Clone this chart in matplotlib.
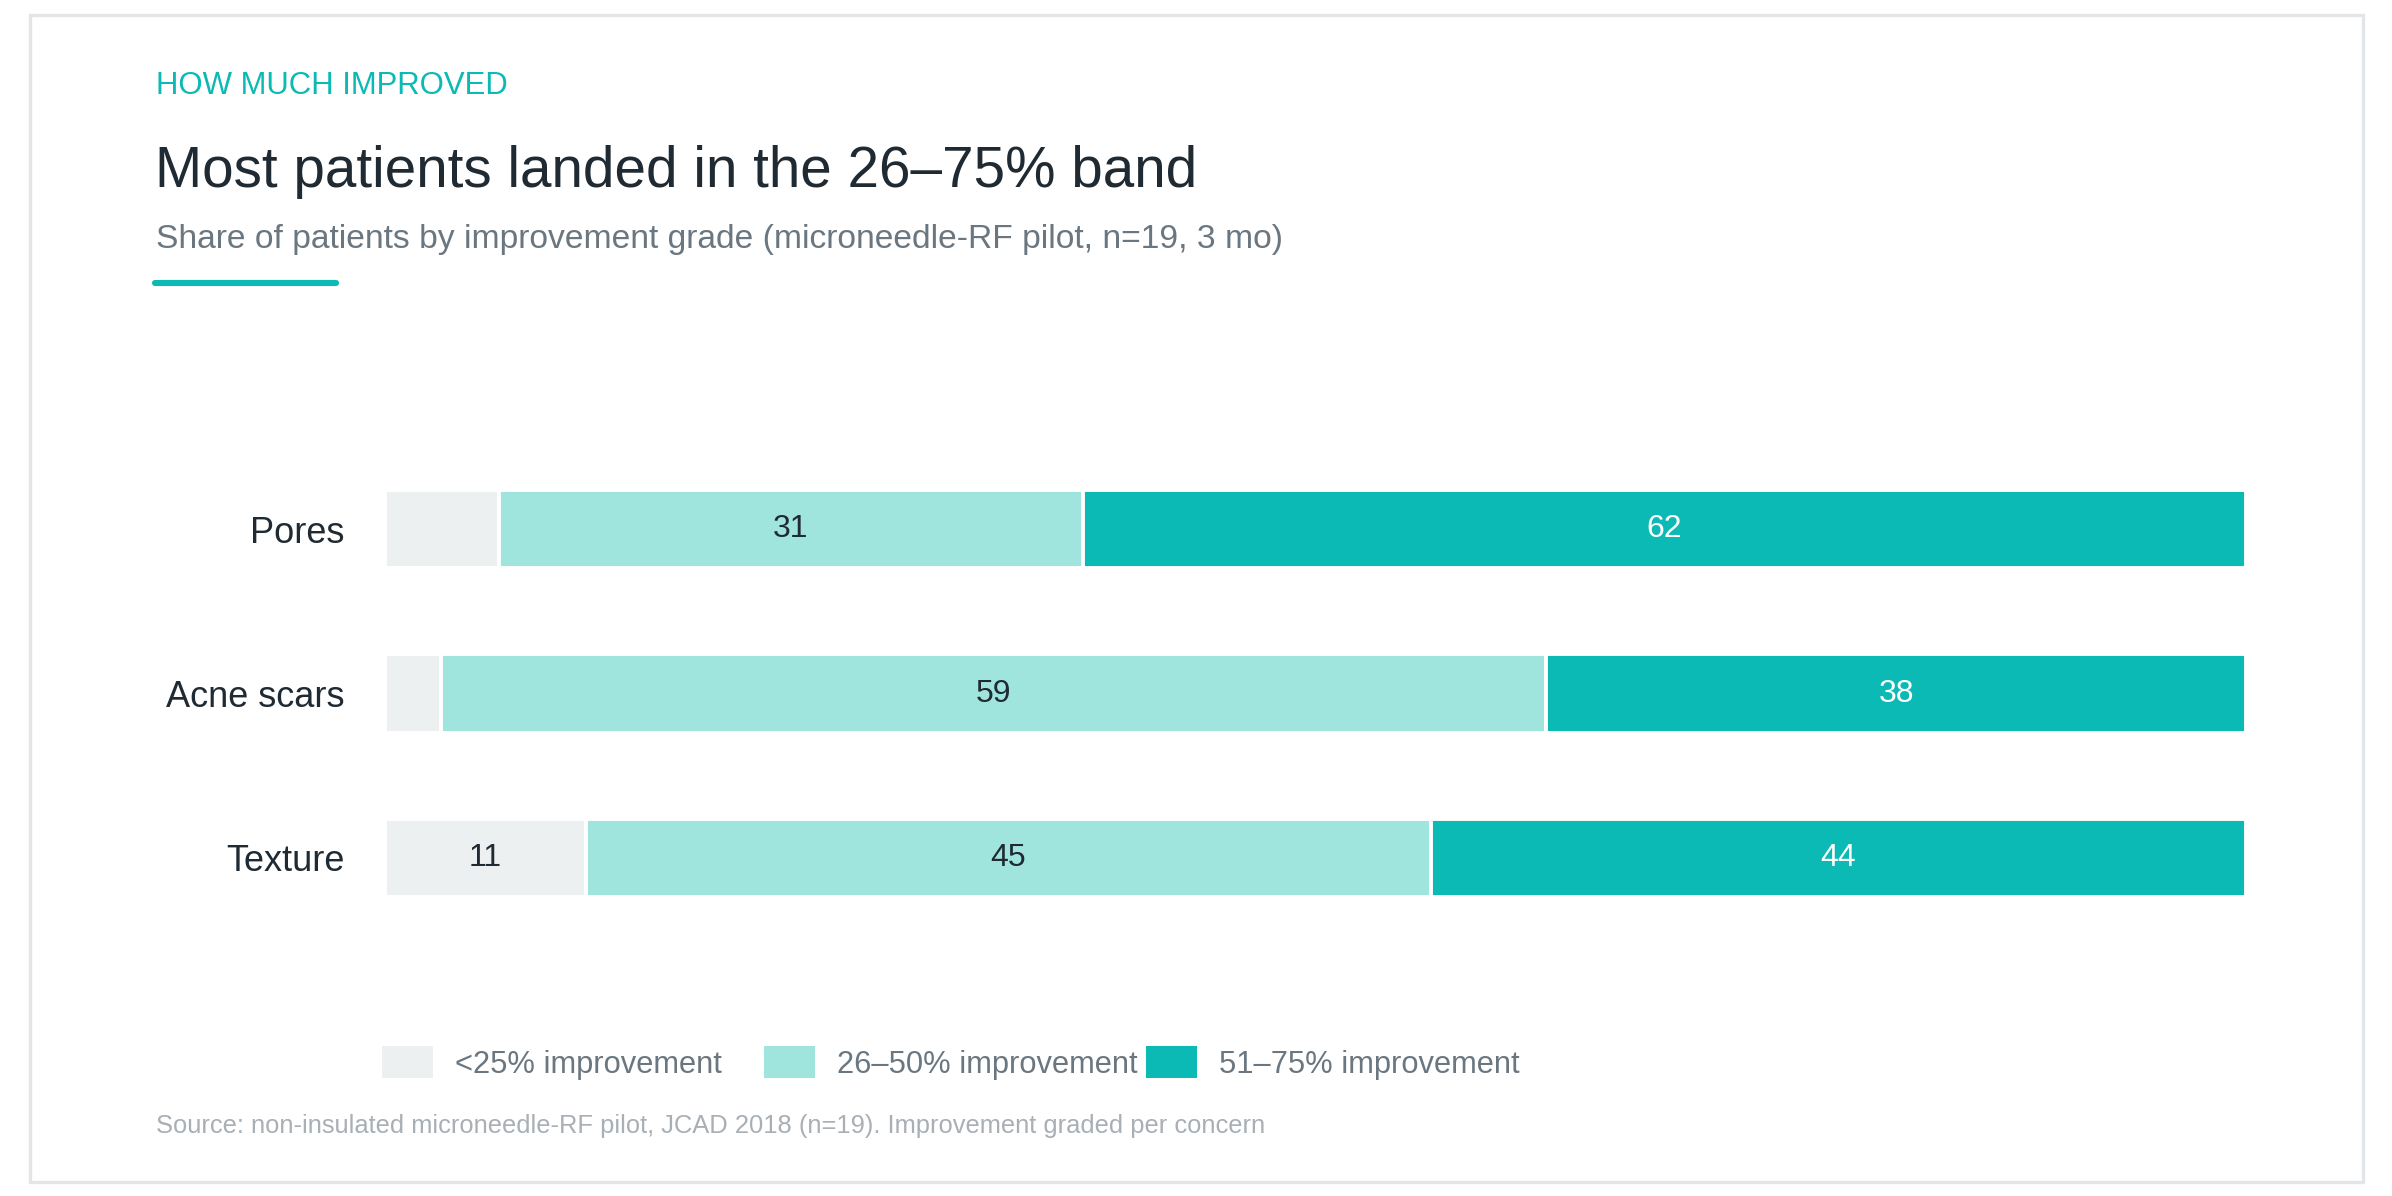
import numpy as np
import matplotlib
matplotlib.use("Agg")
import matplotlib.pyplot as plt
from matplotlib.patches import Rectangle
from matplotlib.lines import Line2D

# --- Data (% of patients per grade) ---
categories = ["Pores", "Acne scars", "Texture"]
grades = ["<25% improvement", "26–50% improvement", "51–75% improvement"]
low = [6.1, 3.0, 10.8]
mid = [31.4, 59.4, 45.4]
high = [62.5, 37.6, 43.8]

colors = ["#ECF0F1", "#A0E4DE", "#0BBAB5"]
label_colors = ["#1F2A33", "#1F2A33", "#FFFFFF"]

plt.rcParams["font.family"] = ["Liberation Sans", "DejaVu Sans"]

W, H = 2392, 1196
fig = plt.figure(figsize=(W / 200, H / 200), dpi=200)
fig.patch.set_facecolor("white")

def fx(px):
    return px / W

def fy(py):
    return 1 - py / H

# --- Card frame ---
fig.patches.append(Rectangle((fx(30), fy(1182)), fx(2363) - fx(30), fy(15) - fy(1182),
                             transform=fig.transFigure, fill=False,
                             edgecolor="#E3E6E8", linewidth=1.2))

# --- Header ---
fig.text(fx(156), fy(94), "HOW MUCH IMPROVED", color="#0BBAB5", fontsize=11.2,
         va="baseline", ha="left")
fig.text(fx(155), fy(187), "Most patients landed in the 26–75% band", color="#1F2A33",
         fontsize=20.4, va="baseline", ha="left")
fig.text(fx(156), fy(248), "Share of patients by improvement grade (microneedle-RF pilot, n=19, 3 mo)",
         color="#6B7780", fontsize=12.1, va="baseline", ha="left")
fig.add_artist(Line2D([fx(155), fx(336)], [fy(283), fy(283)], transform=fig.transFigure,
                      color="#0BBAB5", linewidth=2.2, solid_capstyle="round"))

# --- Stacked bars ---
ax = fig.add_axes([fx(385), fy(940), fx(2246) - fx(385), (940 - 447) / H])
data = np.array([low, mid, high], dtype=float)
y = np.arange(len(categories))

left = np.zeros(len(categories))
for i, grade in enumerate(grades):
    ax.barh(y, data[i], left=left, height=0.475, color=colors[i],
            edgecolor="white", linewidth=1.4, label=grade)
    for j in range(len(categories)):
        if data[i][j] >= 8:
            ax.text(left[j] + data[i][j] / 2, y[j], f"{data[i][j]:.0f}",
                    ha="center", va="center", fontsize=11.5, color=label_colors[i])
    left += data[i]

ax.set_xlim(0, 100)
ax.set_ylim(2.5, -0.5)
ax.set_yticks(y)
ax.set_yticklabels(categories, fontsize=13, color="#1F2A33")
ax.tick_params(axis="y", length=0, pad=14.5)
ax.set_xticks([])
for s in ax.spines.values():
    s.set_visible(False)

# --- Legend (fixed-width items) ---
legend_x = [382, 764, 1146]
for i, grade in enumerate(grades):
    x0 = legend_x[i]
    fig.patches.append(Rectangle((fx(x0), fy(1078)), fx(51), 32 / H,
                                 transform=fig.transFigure, facecolor=colors[i],
                                 edgecolor="none"))
    fig.text(fx(x0 + 73), fy(1073), grade, color="#6B7780", fontsize=11.1,
             va="baseline", ha="left")

# --- Source ---
fig.text(fx(156), fy(1133), "Source: non-insulated microneedle-RF pilot, JCAD 2018 (n=19). Improvement graded per concern",
         color="#A8AFB5", fontsize=9.2, va="baseline", ha="left")

fig.savefig("out.png", dpi=200, facecolor="white")
